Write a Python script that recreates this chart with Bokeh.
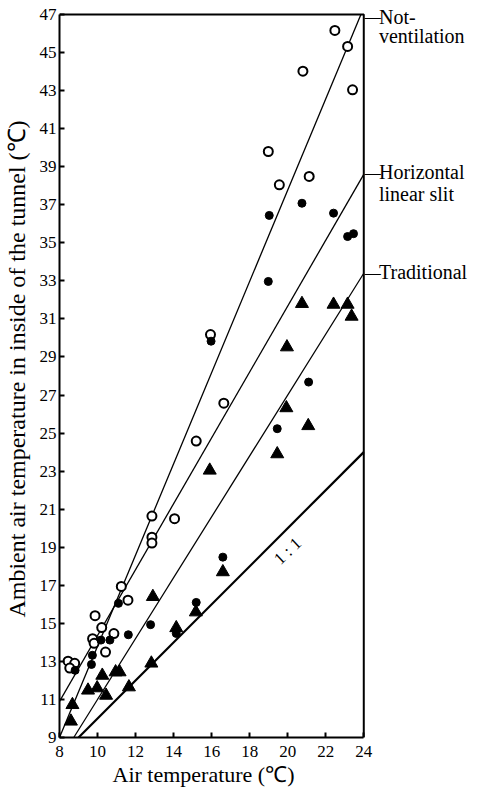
from bokeh.plotting import figure
from bokeh.models import Range1d, FixedTicker, Label, Title
from bokeh.embed import file_html
from bokeh.resources import INLINE

# ---------------- data ----------------
x_ticks = [8, 10, 12, 14, 16, 18, 20, 22, 24]
y_ticks = list(range(9, 48, 2))

# Not-ventilation (open circles)
nv_x = [22.48, 23.15, 20.80, 23.41, 18.98, 19.56, 21.13, 15.94, 16.64, 15.19,
        12.86, 14.05, 12.86, 12.86, 11.25, 11.60, 9.87, 10.22, 10.86, 9.74,
        9.82, 10.42, 8.45, 8.80, 8.54]
nv_y = [46.16, 45.32, 44.02, 43.04, 39.80, 38.05, 38.49, 30.18, 26.57, 24.58,
        20.64, 20.50, 19.53, 19.22, 16.94, 16.22, 15.40, 14.78, 14.46, 14.19,
        13.95, 13.49, 13.01, 12.90, 12.65]

# Horizontal linear slit (filled circles)
hs_x = [19.03, 20.75, 22.41, 23.15, 23.46, 18.98, 15.97, 21.10, 19.45, 16.59,
        15.19, 11.10, 12.79, 14.14, 11.62, 10.18, 10.65, 9.73, 9.68, 8.82]
hs_y = [36.44, 37.08, 36.56, 35.33, 35.48, 32.97, 29.83, 27.68, 25.23, 18.48,
        16.10, 16.05, 14.93, 14.47, 14.40, 14.12, 14.12, 13.32, 12.84, 12.53]

# Traditional (filled triangles)
tr_x = [20.75, 22.41, 23.15, 23.36, 19.96, 19.93, 21.08, 19.45, 15.90, 16.59,
        12.91, 15.17, 14.14, 12.83, 10.25, 10.95, 11.16, 9.50, 9.98, 10.45,
        11.65, 8.68, 8.60]
tr_y = [31.80, 31.76, 31.76, 31.13, 29.52, 26.32, 25.38, 23.90, 23.04, 17.70,
        16.40, 15.59, 14.76, 12.90, 12.26, 12.44, 12.44, 11.48, 11.60, 11.21,
        11.65, 10.72, 9.85]

# regression lines
nv_line_x = [8.0, 23.85]
nv_line_y = [9.0, 47.0]
hs_line_x = [8.0, 24.0]
hs_line_y = [10.9, 38.6]
tr_line_x = [8.75, 24.0]
tr_line_y = [9.0, 33.4]
one_x = [9.0, 24.0]
one_y = [9.0, 24.0]

line_labels = [("Not-", "ventilation"), ("Horizontal", "linear slit"), ("Traditional",)]
line_label_y = [46.87, 38.7, 33.45]
line_label_gap = [1.0, 1.13, 1.13]

SERIF = "Liberation Serif"
X0, X1 = x_ticks[0], x_ticks[-1]
Y0, Y1 = y_ticks[0], y_ticks[-1]
# frame continues to the right and top edges so that the line labels are not clipped
X_END = X0 + (X1 - X0) * 420.0 / 305.0
Y_END = Y0 + (Y1 - Y0) * 737.0 / 723.0

p = figure(width=478, height=789, x_range=Range1d(X0, X_END),
           y_range=Range1d(Y0, Y_END),
           output_backend="svg", toolbar_location=None,
           min_border_left=58, min_border_right=0, min_border_top=0,
           min_border_bottom=52)
p.background_fill_color = "white"
p.border_fill_color = "white"
p.grid.visible = False
p.outline_line_color = None

for ax, ticks in ((p.xaxis[0], x_ticks), (p.yaxis[0], y_ticks)):
    ax.ticker = FixedTicker(ticks=ticks)
    ax.major_tick_in = 5
    ax.major_tick_out = 0
    ax.minor_tick_line_color = None
    ax.axis_line_width = 2
    ax.major_tick_line_width = 2
    ax.major_label_text_font = SERIF
    ax.major_label_text_font_size = "17px"
    ax.major_label_text_color = "black"
    ax.axis_label_text_font = SERIF
    ax.axis_label_text_font_style = "normal"
    ax.axis_label_text_color = "black"

p.xaxis.bounds = (X0, X1)
p.yaxis.bounds = (Y0, Y1)
p.yaxis.axis_label = "Ambient air temperature in inside of the tunnel (℃)"
p.yaxis.axis_label_text_font_size = "24px"
p.xaxis.major_label_standoff = 8
p.yaxis.major_label_standoff = 3
p.yaxis.axis_label_standoff = 7

# x-axis title, aligned under the plotted box (not the extended frame)
p.add_layout(Title(text="Air temperature (℃)", text_font=SERIF,
                   text_font_size="22px", text_font_style="normal",
                   text_color="black", align="left", offset=53, standoff=0),
             "below")

# plot box (top and right sides)
p.line([X0, X1, X1], [Y1, Y1, Y0], line_color="black", line_width=2)

# lines
p.line(nv_line_x, nv_line_y, line_color="black", line_width=1.3)
p.line(hs_line_x, hs_line_y, line_color="black", line_width=1.3)
p.line(tr_line_x, tr_line_y, line_color="black", line_width=1.3)
p.line(one_x, one_y, line_color="black", line_width=2.2)

# points
p.scatter(nv_x, nv_y, marker="circle", size=9, fill_color="white",
          line_color="black", line_width=2)
p.scatter(hs_x, hs_y, marker="circle", size=8, fill_color="black",
          line_color="black")
p.scatter(tr_x, tr_y, marker="triangle", size=13, fill_color="black",
          line_color="black")

# right-hand labels with leader dashes
for texts, y, gap in zip(line_labels, line_label_y, line_label_gap):
    p.add_layout(Label(x=X1, y=y, text="—", text_font=SERIF,
                       text_font_size="16px", text_baseline="middle",
                       text_align="left", text_color="black", x_offset=1))
    for i, t in enumerate(texts):
        p.add_layout(Label(x=X1 + 0.8, y=y - i * gap, text=t, text_font=SERIF,
                           text_font_size="20px", text_baseline="middle",
                           text_align="left", text_color="black"))

p.add_layout(Label(x=20.0, y=18.8, text="1 : 1", text_font=SERIF,
                   text_font_size="17px", angle=0.76, text_align="center",
                   text_baseline="middle", text_color="black"))

open("out.html", "w").write(file_html(p, INLINE))
